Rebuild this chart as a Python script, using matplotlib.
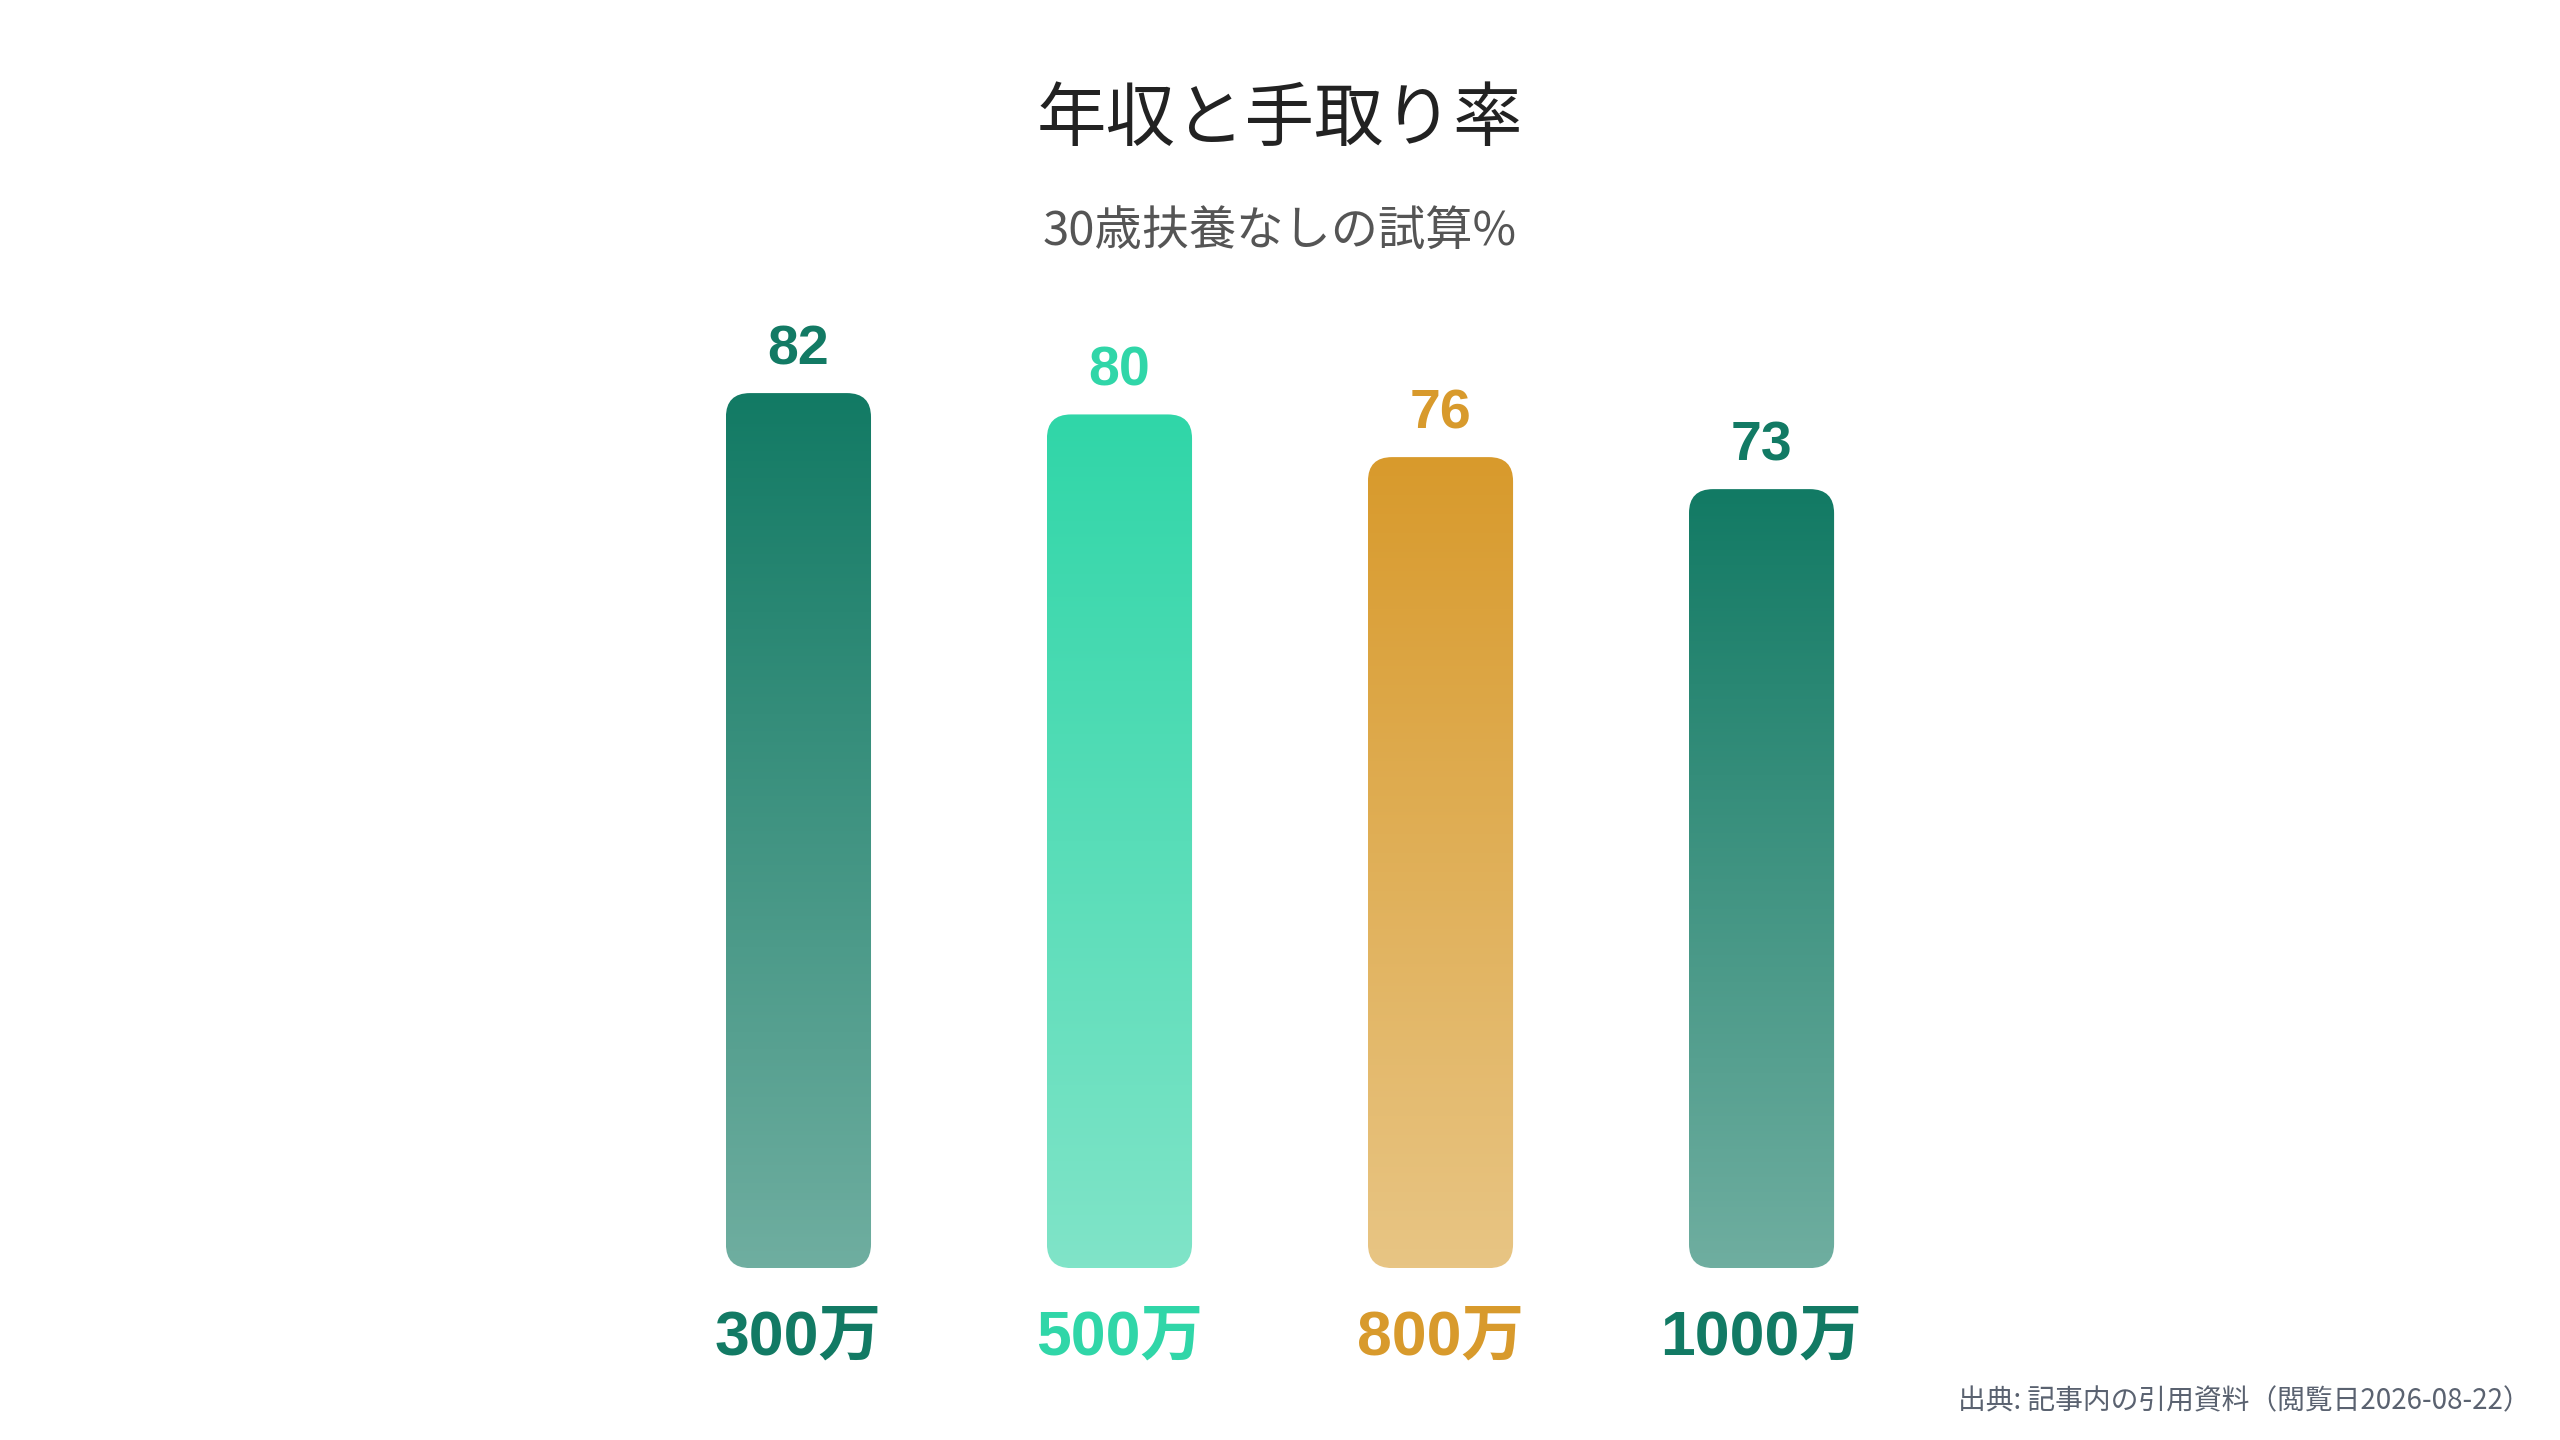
import matplotlib.pyplot as plt
import numpy as np
from matplotlib.patches import FancyBboxPatch
from matplotlib.colors import LinearSegmentedColormap

# データ
categories = ['300万', '500万', '800万', '1000万']
values = [82, 80, 76, 73]
top_colors = ['#127A64', '#30D6A8', '#D89A2C', '#127A64']
bottom_colors = ['#6FAEA0', '#80E4C8', '#E8C584', '#6FAEA0']

title = '年収と手取り率'
subtitle = '30歳扶養なしの試算%'
source = '出典: 記事内の引用資料（閲覧日2026-08-22）'

jp = ['Noto Sans CJK JP', 'DejaVu Sans']
num = ['Liberation Sans', 'Noto Sans CJK JP', 'DejaVu Sans']
plt.rcParams['font.family'] = jp

fig = plt.figure(figsize=(25.6, 14.4), dpi=100)
ax = fig.add_axes([0.2492, 0.1194, 0.5016, 0.741])
ax.set_xlim(-0.5, 3.5)
ax.set_ylim(0, 100)
ax.axis('off')

width = 0.452
# 角丸の大きさ (x方向 0.075, y方向 2.25)
rs = 0.075
aspect = 2.25 / rs

for i, (v, c1, c2) in enumerate(zip(values, top_colors, bottom_colors)):
    patch = FancyBboxPatch((i - width / 2, 0), width, v,
                           boxstyle=f'round,pad=0,rounding_size={rs}',
                           mutation_aspect=aspect,
                           facecolor='none', edgecolor='none')
    ax.add_patch(patch)
    cmap = LinearSegmentedColormap.from_list(f'g{i}', [c2, c1])
    grad = np.linspace(0, 1, 256).reshape(-1, 1)
    im = ax.imshow(grad, cmap=cmap, origin='lower', aspect='auto',
                   extent=[i - width / 2, i + width / 2, 0, v], zorder=2)
    im.set_clip_path(patch)
    ax.text(i, v + 1.6, str(v), ha='center', va='bottom', fontsize=40,
            fontweight='bold', color=c1, family=num)
    ax.text(i, -3.75, categories[i], ha='center', va='top', fontsize=45,
            fontweight='bold', color=c1, family=num)

ax.set_xlim(-0.5, 3.5)
ax.set_ylim(0, 100)

fig.text(0.5, 0.9165, title, ha='center', va='center', fontsize=50, color='#222222')
fig.text(0.5, 0.8395, subtitle, ha='center', va='center', fontsize=34, color='#555555')
fig.text(0.9885, 0.027, source, ha='right', va='center', fontsize=20, color='#5A6270')

plt.savefig('out.png', dpi=100, facecolor='white')
